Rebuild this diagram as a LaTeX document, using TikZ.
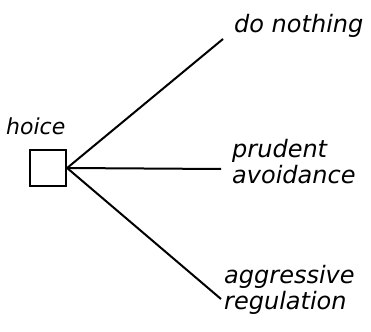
\documentclass[tikz,border=0pt]{standalone}
\usepackage{fontspec}
\setmainfont{DejaVu Sans}
\usepackage{tikz}
\usetikzlibrary{positioning}
\tikzset{
  caixa/.style={draw, line width=2.2pt, minimum size=36pt, inner sep=0pt},
  ramo/.style={line width=2pt},
  rotulo/.style={font=\fontsize{24}{26}\selectfont\itshape, align=left, inner sep=0pt},
}

\begin{document}
\begin{tikzpicture}[x=1pt,y=-1pt]
  \useasboundingbox (0,0) rectangle (371,331);

  % ------------------------------------------------------------------ decisão
  \node[caixa] (choice) at (48,168) {};
  \node[rotulo, font=\fontsize{22}{24}\selectfont\itshape, anchor=base west]
    (choicelab) at (6,135) {hoice};

  % extremidades livres dos ramos
  \coordinate (e1) at (223,39);
  \coordinate (e2) at (221,169);
  \coordinate (e3) at (221,299);

  % ------------------------------------------------------------------ opções
  \node[rotulo, anchor=base west] (op1) at (234,33) {do nothing};
  \node[rotulo, anchor=base west] (op2) at (232,183) {prudent\\avoidance};
  \node[rotulo, anchor=base west] (op3) at (224,309) {aggressive\\regulation};

  \draw[ramo] (choice.east) -- (e1);
  \draw[ramo] (choice.east) -- (e2);
  \draw[ramo] (choice.east) -- (e3);
\end{tikzpicture}
\end{document}
